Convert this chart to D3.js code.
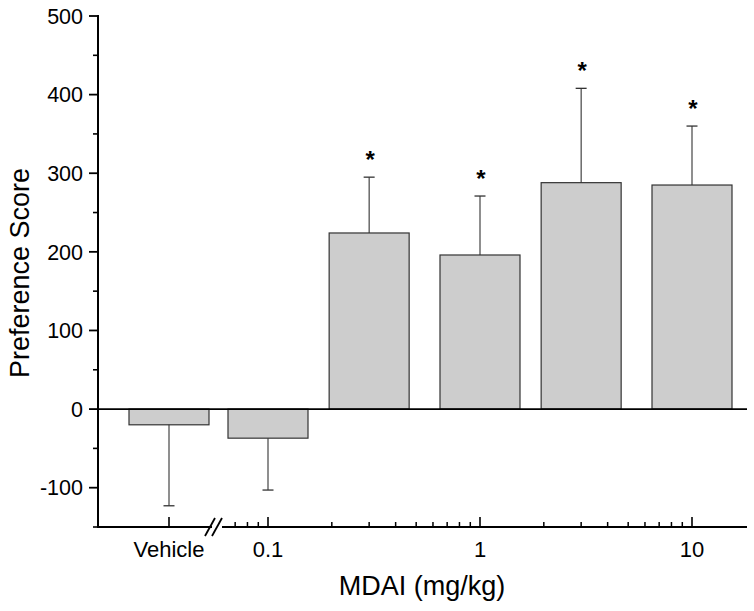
<!DOCTYPE html>
<html><head><meta charset="utf-8">
<script src="https://cdn.jsdelivr.net/npm/d3@7/dist/d3.min.js"></script>
<style>body{margin:0;background:#fff} text{font-family:"Liberation Sans",Arial,sans-serif;fill:#000}</style>
</head><body><svg id="c" width="754" height="611"></svg>
<script>
const categories = ["Vehicle","0.1","0.3","1","3","10"];
const doses = [null,0.1,0.3,1,3,10];
const means = [-20,-37,224,196,288,285];
const sems = [103,66,71,75,120,75];
const significant = [false,false,true,true,true,true];
const yMajorTicks = [-100,0,100,200,300,400,500];
const yMinorTicks = [-150,-50,50,150,250,350,450];
const xMajorTicks = [0.1,1,10];
const xTickLabels = ["0.1","1","10"];

(function(){
const svg = d3.select("#c");
const pLeft = 98, pRight = 747, pTop = 16, pBottom = 527;
const breakL = 212, breakR = 222;

const y = d3.scaleLinear().domain([-150,500]).range([pBottom,pTop]);
const x = d3.scaleLog().domain([0.1,10]).range([268,692]);
const xVeh = d3.scalePoint().domain(["Vehicle"]).range([169,169]);
const px = (i) => doses[i] === null ? xVeh(categories[i]) : x(doses[i]);
const barW = 80;

const g = svg.append("g");
means.forEach((m,i) => {
  const cx = px(i);
  g.append("rect")
    .attr("x", cx - barW/2).attr("width", barW)
    .attr("y", Math.min(y(m), y(0))).attr("height", Math.abs(y(m)-y(0)))
    .attr("fill","#cdcdcd").attr("stroke","#333").attr("stroke-width",1.2);
  const end = m + (m < 0 ? -sems[i] : sems[i]);
  g.append("line").attr("x1",cx).attr("x2",cx).attr("y1",y(m)).attr("y2",y(end))
    .attr("stroke","#333").attr("stroke-width",1.1);
  g.append("line").attr("x1",cx-5.5).attr("x2",cx+5.5).attr("y1",y(end)).attr("y2",y(end))
    .attr("stroke","#333").attr("stroke-width",1.3);
  if (significant[i]) {
    g.append("text").attr("x",cx+1).attr("y",y(end)-9)
      .attr("text-anchor","middle").attr("font-size",24).attr("font-weight","bold").text("*");
  }
});

svg.append("line").attr("x1",pLeft).attr("x2",pRight).attr("y1",y(0)).attr("y2",y(0))
  .attr("stroke","#000").attr("stroke-width",1.6);

const ya = svg.append("g");
ya.append("line").attr("x1",pLeft).attr("x2",pLeft).attr("y1",pTop-1).attr("y2",pBottom+1)
  .attr("stroke","#000").attr("stroke-width",2);
yMajorTicks.forEach(v => {
  ya.append("line").attr("x1",pLeft-9).attr("x2",pLeft).attr("y1",y(v)).attr("y2",y(v))
    .attr("stroke","#000").attr("stroke-width",1.8);
  ya.append("text").attr("x",pLeft-15).attr("y",y(v)).attr("dy","0.36em")
    .attr("text-anchor","end").attr("font-size",21.5).text(v);
});
yMinorTicks.forEach(v => {
  ya.append("line").attr("x1",pLeft-5).attr("x2",pLeft).attr("y1",y(v)).attr("y2",y(v))
    .attr("stroke","#000").attr("stroke-width",1.6);
});

const xa = svg.append("g");
xa.append("line").attr("x1",pLeft).attr("x2",breakL).attr("y1",pBottom).attr("y2",pBottom)
  .attr("stroke","#000").attr("stroke-width",2);
xa.append("line").attr("x1",breakR).attr("x2",pRight).attr("y1",pBottom).attr("y2",pBottom)
  .attr("stroke","#000").attr("stroke-width",2);
[0, 7].forEach(o => {
  xa.append("line").attr("x1",205+o).attr("x2",215+o).attr("y1",pBottom+9).attr("y2",pBottom-9)
    .attr("stroke","#000").attr("stroke-width",1.8);
});
xa.append("line").attr("x1",xVeh("Vehicle")).attr("x2",xVeh("Vehicle"))
  .attr("y1",pBottom).attr("y2",pBottom-10).attr("stroke","#000").attr("stroke-width",1.6);
xa.append("text").attr("x",xVeh("Vehicle")).attr("y",pBottom+30)
  .attr("text-anchor","middle").attr("font-size",22).text("Vehicle");
const minor = [];
[0.01,0.1,1,10].forEach(d => { for (let k=2;k<=9;k++) minor.push(k*d); });
minor.filter(v => x(v) > breakR + 8 && x(v) < pRight).forEach(v => {
  xa.append("line").attr("x1",x(v)).attr("x2",x(v)).attr("y1",pBottom).attr("y2",pBottom-5)
    .attr("stroke","#000").attr("stroke-width",1.5);
});
xMajorTicks.forEach((v,i) => {
  xa.append("line").attr("x1",x(v)).attr("x2",x(v)).attr("y1",pBottom).attr("y2",pBottom-10)
    .attr("stroke","#000").attr("stroke-width",1.6);
  xa.append("text").attr("x",x(v)).attr("y",pBottom+30)
    .attr("text-anchor","middle").attr("font-size",22).text(xTickLabels[i]);
});

svg.append("text").attr("x",422).attr("y",595).attr("text-anchor","middle")
  .attr("font-size",27).text("MDAI (mg/kg)");
svg.append("text").attr("transform","translate(29,273) rotate(-90)").attr("text-anchor","middle")
  .attr("font-size",27).text("Preference Score");
})();
</script></body></html>
